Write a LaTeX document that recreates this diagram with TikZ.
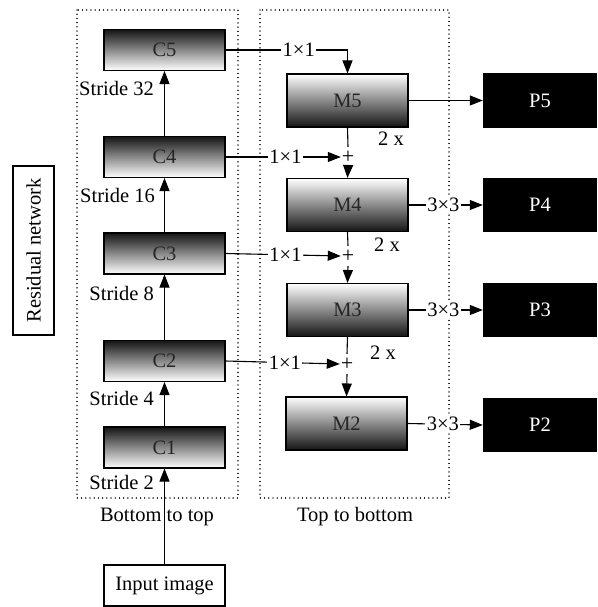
\documentclass[tikz,border=0pt]{standalone}
\usepackage{fontspec}
\setmainfont{Liberation Serif}
\usetikzlibrary{arrows.meta,shadings}
\newcommand{\plussign}{\fontsize{22}{22}\selectfont +}
\begin{document}
\begin{tikzpicture}[x=1pt,y=-1pt,
  font=\fontsize{20.5}{24}\selectfont,
  every node/.style={inner sep=0pt},
  cbox/.style={draw, line width=1.1pt, minimum width=121pt, minimum height=41pt,
    top color=black!92, middle color=black!22, bottom color=white, text=black!85},
  mbox/.style={draw, line width=1.1pt, minimum width=121pt, minimum height=53pt,
    top color=white, middle color=black!22, bottom color=black!92, text=black!85},
  pbox/.style={fill=black, minimum width=114pt, minimum height=54pt, text=white},
  plainbox/.style={draw, line width=1.1pt},
  dotbox/.style={line width=1.3pt, dash pattern=on 0.01pt off 4.2pt, line cap=round},
  conn/.style={line width=1.1pt},
  arr/.style={conn, -{Triangle[length=13pt,width=10pt]}},
  lbl/.style={fill=white, inner sep=1.5pt},
  plusnode/.style={minimum width=14pt, minimum height=20pt},
]
\useasboundingbox (0,0) rectangle (597,607);

% dotted frames
\draw[dotbox] (77,10) rectangle (238,498);
\draw[dotbox] (260,10) rectangle (449,498);

% residual network
\node[plainbox, rotate=90, minimum width=169pt, minimum height=41pt] (res) at (33.5,250.5) {Residual network};

% C nodes
\node[cbox] (C5) at (164.5,50) {C5};
\node[cbox] (C4) at (164.5,157) {C4};
\node[cbox] (C3) at (164.5,253.5) {C3};
\node[cbox] (C2) at (164.5,361) {C2};
\node[cbox] (C1) at (164.5,447.5) {C1};
\node[plainbox, minimum width=121pt, minimum height=41pt] (in) at (164.5,585.5) {Input image};

% M nodes
\node[mbox] (M5) at (347.5,100.5) {M5};
\node[mbox] (M4) at (347.5,205) {M4};
\node[mbox] (M3) at (347.5,310) {M3};
\node[mbox] (M2) at (346.5,423.5) {M2};

% P nodes
\node[pbox] (P5) at (540,100.5) {P5};
\node[pbox] (P4) at (540,205) {P4};
\node[pbox] (P3) at (540,310) {P3};
\node[pbox] (P2) at (540,425) {P2};

% plus nodes
\node[plusnode] (p4) at (348,157) {\plussign};
\node[plusnode] (p3) at (348,256) {\plussign};
\node[plusnode] (p2) at (347,364) {\plussign};

% stride labels
\node[anchor=east] (s32) at (154,88) {Stride 32};
\node[anchor=east] (s16) at (155,195) {Stride 16};
\node[anchor=east] (s8) at (154,293) {Stride 8};
\node[anchor=east] (s4) at (154,398) {Stride 4};
\node[anchor=east] (s2) at (154,482) {Stride 2};

% captions
\node (bt) at (157,517) {Bottom to top};
\node (tb) at (355,517) {Top to bottom};

% 2x labels
\node (x5) at (391,139) {2 x};
\node (x4) at (387,245) {2 x};
\node (x3) at (383,353) {2 x};

% bottom-up arrows
\draw[arr] (in) -- (C1);
\draw[arr] (C1) -- (C2);
\draw[arr] (C2) -- (C3);
\draw[arr] (C3) -- (C4);
\draw[arr] (C4) -- (C5);

% lateral connections
\draw[arr] (C5.east) -| node[lbl, pos=0.3]{1×1} (M5.north);
\draw[arr] (C4.east) -- node[lbl, pos=0.52]{1×1} (p4.west);
\draw[arr] (C3.east) -- node[lbl, pos=0.52]{1×1} (p3.west);
\draw[arr] (C2.east) -- node[lbl, pos=0.52]{1×1} (p2.west);

% top-down
\draw[conn] (M5.south) -- (p4.north);
\draw[arr] (p4.south) -- (M4.north);
\draw[conn] (M4.south) -- (p3.north);
\draw[arr] (p3.south) -- (M3.north);
\draw[conn] (M3.south) -- (p2.north);
\draw[arr] (p2.south) -- (M2.north);

% outputs
\draw[arr] (M5.east) -- (P5.west);
\draw[arr] (M4.east) -- node[lbl, pos=0.47]{3×3} (P4.west);
\draw[arr] (M3.east) -- node[lbl, pos=0.47]{3×3} (P3.west);
\draw[arr] (M2.east) -- node[lbl, pos=0.47]{3×3} (P2.west);
\end{tikzpicture}
\end{document}
